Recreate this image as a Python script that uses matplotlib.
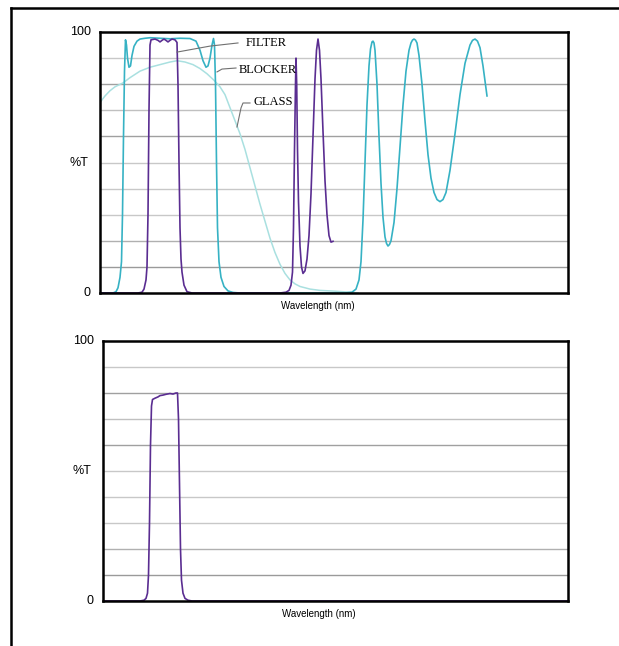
import numpy as np
import matplotlib
matplotlib.use('Agg')
from matplotlib import pyplot as plt
from matplotlib.lines import Line2D

# positions are relative wavelength units along the axis (no ticks shown)
blocker_x = [0, 13, 16, 18, 20, 21.5, 22.5, 23.5, 24.5, 25.5, 26.5, 27.5, 29, 30.5, 32, 34, 37, 40,
             45, 50, 60, 70, 80, 90, 96, 100, 103, 106, 108, 110, 112, 113.5, 114.5, 115.5, 116.5,
             117.5, 119, 121, 124, 128, 133, 140, 245, 252, 256, 259, 261, 263, 265, 267, 269, 270.5,
             272, 273, 274, 275, 277, 279, 281, 283, 285, 286.5, 288, 289.5, 291, 294, 297, 300, 303,
             306, 309, 311, 312.5, 314, 315.5, 317, 319, 322, 325, 328, 331, 334, 337, 340, 343, 346,
             350, 355, 360, 365, 370, 372.5, 375, 377.5, 380, 383, 387]
blocker_t = [0, 0, 0.5, 2, 6, 12, 30, 60, 85, 97, 95, 90, 86.5, 87, 91, 94.5, 96.5, 97.3,
             97.6, 97.8, 97.6, 97.4, 97.6, 97.5, 96.5, 93, 89, 86.5, 87, 90, 95, 97.5, 95, 80, 50,
             25, 12, 6, 2.5, 0.8, 0.2, 0, 0, 0.3, 1.5, 5, 12, 28, 50, 72, 87, 93.5,
             96.2, 96.5, 95.8, 93, 80, 60, 42, 29, 21.5, 19, 18, 18.6, 20, 27, 40, 56, 72,
             85, 93, 95.8, 96.9, 97.3, 96.9, 95.8, 91, 80, 66, 53, 44, 38.5, 35.8, 35, 35.8, 38.5,
             47, 61, 76, 88, 95, 96.8, 97.3, 96.5, 94, 87, 75.5]

filter_x = [0, 38, 42, 44, 46, 47, 48, 49, 50, 51, 55, 58, 60, 62, 64, 66, 68, 70, 72, 75, 77,
            78, 79, 80, 81, 82, 84, 87, 92, 180, 186, 189, 191, 192.5, 193.5, 194.5, 195.5, 196,
            196.7, 197.5, 198.5, 200, 201.5, 203, 205, 207, 209, 211, 213, 215, 216.5, 218, 219.5,
            221, 223, 225, 227, 229, 231, 233]
filter_t = [0, 0, 0.3, 1.5, 5, 10, 30, 70, 95, 97, 97.3, 96.8, 96.2, 96.8, 97.3, 96.8, 96.2, 96.8,
            97.3, 97, 96, 80, 50, 25, 13, 8, 3, 0.5, 0, 0, 0.3, 1, 3, 8, 25, 55, 80, 90,
            80, 55, 35, 18, 10, 7.5, 8.5, 13, 22, 38, 60, 82, 93, 97.3, 93,
            82, 62, 43, 30, 22, 19.5, 19.8]

glass_x = [0, 5, 10, 15, 23, 30, 40, 50, 60, 70, 77, 85, 93, 100, 107, 114, 120, 125, 130, 135,
           140, 145, 150, 155, 160, 165, 170, 175, 180, 185, 190, 195, 200, 210, 220, 235, 250, 258]
glass_t = [73, 75.5, 77.5, 79, 80.5, 82.5, 85, 86.5, 87.5, 88.5, 89, 88.5, 87.5, 86, 84, 81.5, 79,
           76, 71, 66, 61, 55, 48, 41, 34, 27.5, 21, 15.5, 11, 7.5, 5, 3.5, 2.5, 1.5, 1, 0.7, 0.3, 0]

single_x = [0, 37, 41, 43, 44.5, 45.5, 46.5, 47.5, 48.5, 49.5, 52, 55, 57, 60, 63, 67, 70, 73,
            74.5, 75.5, 76.5, 77.5, 78.5, 80, 82, 85, 89, 465]
single_t = [0, 0, 0.3, 1, 3, 10, 30, 60, 75, 77.5, 78, 78.5, 79, 79.2, 79.5, 79.8, 79.6, 80,
            80, 70, 45, 20, 8, 3, 1, 0.3, 0, 0]

grid_levels = [10, 20, 30, 40, 50, 60, 70, 80, 90]
grid_colors = ['#9a9a9a', '#b0b0b0', '#c8c8c8', '#c8c8c8', '#c8c8c8', '#a0a0a0', '#c0c0c0', '#a0a0a0', '#c8c8c8']

teal = '#36b2c4'
purple = '#5a2d91'
glass = '#a9e0e0'
lead = '#707070'

label_font = ['Liberation Sans Narrow', 'Liberation Sans', 'DejaVu Sans']
serif_font = ['Liberation Serif', 'DejaVu Serif']

W, H = 619, 646
fig = plt.figure(figsize=(W / 100, H / 100), dpi=100)


def make_axes(left, right, top, bottom, xmax):
    ax = fig.add_axes([left / W, 1 - bottom / H, (right - left) / W, (bottom - top) / H])
    ax.set_xlim(0, xmax)
    ax.set_ylim(0, 100)
    ax.set_xticks([])
    ax.set_yticks([])
    for s in ax.spines.values():
        s.set_linewidth(1.8)
        s.set_color('black')
    for g, c in zip(grid_levels, grid_colors):
        ax.axhline(g, color=c, linewidth=1.0, zorder=0)
    ax.text(-0.02, 1.0, '100', transform=ax.transAxes, ha='right', va='center',
            fontsize=9, family=label_font)
    ax.text(-0.02, 0.0, '0', transform=ax.transAxes, ha='right', va='center',
            fontsize=9, family=label_font)
    ax.text(-0.045, 0.5, '%T', transform=ax.transAxes, ha='center', va='center',
            fontsize=9, family=label_font)
    ax.text(0.465, -0.05, 'Wavelength (nm)', transform=ax.transAxes, ha='center', va='center',
            fontsize=7, family=label_font)
    return ax


ax1 = make_axes(100, 568, 32, 293, 468)
ax1.plot(glass_x, glass_t, color=glass, linewidth=1.1)
ax1.plot(blocker_x, blocker_t, color=teal, linewidth=1.2)
ax1.plot(filter_x, filter_t, color=purple, linewidth=1.2)

# leader lines and labels
ax1.plot([77, 110, 138], [92.3, 94.6, 95.8], color=lead, linewidth=0.8)
ax1.text(146, 95.6, 'FILTER', fontsize=9, family=serif_font, va='center', ha='left')
ax1.plot([117, 122, 136], [84.7, 85.8, 86.2], color=lead, linewidth=0.8)
ax1.text(139, 85.6, 'BLOCKER', fontsize=9, family=serif_font, va='center', ha='left')
ax1.plot([137, 141, 143, 150], [63.6, 70.9, 72.8, 72.8], color=lead, linewidth=0.8)
ax1.text(153, 73.2, 'GLASS', fontsize=9, family=serif_font, va='center', ha='left')

ax2 = make_axes(103, 568, 341, 601, 465)
ax2.plot(single_x, single_t, color=purple, linewidth=1.2)

# outer frame (cropped box)
fig.add_artist(Line2D([11 / W, 1], [1 - 8 / H, 1 - 8 / H], color='black', linewidth=1.8))
fig.add_artist(Line2D([11 / W, 11 / W], [0, 1 - 8 / H], color='black', linewidth=1.8))

fig.savefig('out.png', dpi=100)
